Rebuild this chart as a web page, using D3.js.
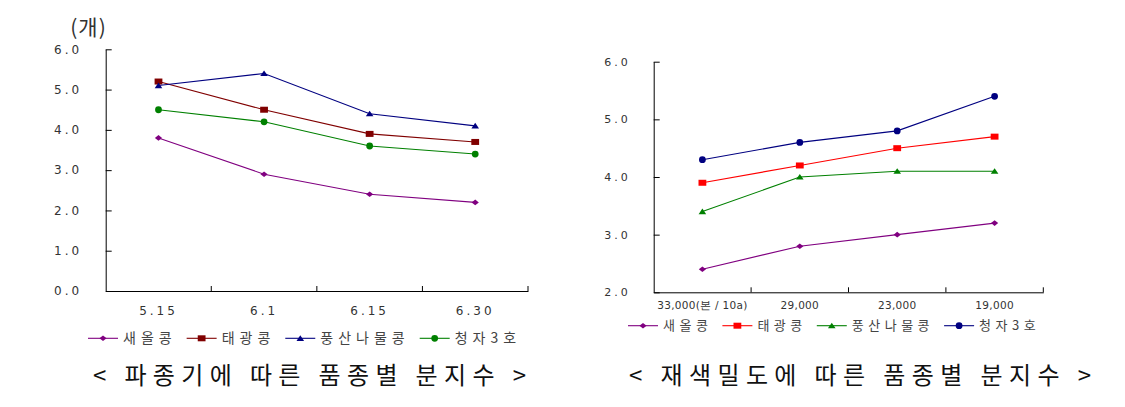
<!DOCTYPE html>
<html>
<head>
<meta charset="utf-8">
<script src="https://cdn.jsdelivr.net/npm/d3@7"></script>
<style>
  body { margin: 0; background: #fff; }
  svg { display: block; }
</style>
</head>
<body>
<div class="container"></div>
<script>
(function(){

    // data
    var varieties = ["새올콩", "태광콩", "풍산나물콩", "청자3호"];

    var sowingDates = ["5.15", "6.1", "6.15", "6.30"];
    var sowingSaeol   = [3.8, 2.9, 2.4, 2.2];
    var sowingTaegwang = [5.2, 4.5, 3.9, 3.7];
    var sowingPungsan = [5.1, 5.4, 4.4, 4.1];
    var sowingCheongja = [4.5, 4.2, 3.6, 3.4];
    var sowingTicks = [0, 1, 2, 3, 4, 5, 6];

    var densities = ["33,000(본 / 10a)", "29,000", "23,000", "19,000"];
    var densitySaeol   = [2.4, 2.8, 3.0, 3.2];
    var densityTaegwang = [3.9, 4.2, 4.5, 4.7];
    var densityPungsan = [3.4, 4.0, 4.1, 4.1];
    var densityCheongja = [4.3, 4.6, 4.8, 5.4];
    var densityTicks = [2, 3, 4, 5, 6];

    var unitLabel = "(개)";
    var titleSowing = "< 파종기에 따른 품종별 분지수 >";
    var titleDensity = "< 재색밀도에 따른 품종별 분지수 >";

    // marker shapes (slightly wide, like the original)
    var diamond = { draw: function(c) { c.moveTo(-3.6, 0); c.lineTo(0, -2.8); c.lineTo(3.6, 0); c.lineTo(0, 2.8); c.closePath(); } };
    var square = { draw: function(c) { c.rect(-3.9, -3, 7.8, 6); } };
    var triangle = { draw: function(c) { c.moveTo(-3.8, 2.6); c.lineTo(0, -3); c.lineTo(3.8, 2.6); c.closePath(); } };
    var circle = { draw: function(c) { c.ellipse ? c.ellipse(0, 0, 3.9, 3, 0, 0, 2 * Math.PI) : c.arc(0, 0, 3.4, 0, 2 * Math.PI); } };

    var svg = d3.select(".container").append("svg")
        .attr("width", 1125)
        .attr("height", 407);

    var tickFont = "'DejaVu Sans', sans-serif";
    var krFont = "'Noto Sans CJK KR', sans-serif";

    function panel(o) {
      var g = svg.append("g");

      var x = d3.scaleBand().domain(o.cats).range([o.x0, o.x1]).padding(0);
      var y = d3.scaleLinear().domain(o.domain).range([o.y0, o.y1]);

      // y axis, ticks pointing inward
      var yAxis = g.append("g")
        .attr("transform", "translate(" + o.x0 + ",0)")
        .call(d3.axisLeft(y).tickValues(o.ticks).tickFormat(d3.format(".1f"))
          .tickSizeInner(-6).tickSizeOuter(0).tickPadding(o.yPad));
      yAxis.select(".domain").attr("stroke", "#000");
      yAxis.selectAll(".tick line").attr("stroke", "#000");
      yAxis.selectAll("text")
        .attr("font-family", tickFont)
        .attr("font-size", o.yFont)
        .attr("letter-spacing", o.yLs)
        .attr("fill", "#333");

      // x axis: labels at band centres, ticks on band edges
      var xAxis = g.append("g")
        .attr("transform", "translate(0," + o.y0 + ")")
        .call(d3.axisBottom(x).tickSize(0).tickPadding(o.xPad));
      xAxis.select(".domain").attr("stroke", "#000");
      xAxis.selectAll("text")
        .attr("font-family", tickFont)
        .attr("font-size", o.xFont)
        .attr("letter-spacing", o.xLs)
        .attr("fill", "#333");

      g.selectAll(".edge")
        .data(o.cats)
        .enter().append("line")
        .attr("x1", function(d) { return x(d) + x.bandwidth(); })
        .attr("x2", function(d) { return x(d) + x.bandwidth(); })
        .attr("y1", o.y0)
        .attr("y2", o.y0 - 5)
        .attr("stroke", "#000");

      var line = d3.line()
        .x(function(d, i) { return x(o.cats[i]) + x.bandwidth() / 2; })
        .y(function(d) { return y(d); });

      o.series.forEach(function(s) {
        g.append("path")
          .datum(s.values)
          .attr("fill", "none")
          .attr("stroke", s.color)
          .attr("stroke-width", 1.1)
          .attr("d", line);

        g.selectAll(null)
          .data(s.values)
          .enter().append("path")
          .attr("d", d3.symbol().type(s.symbol))
          .attr("fill", s.color)
          .attr("transform", function(d, i) {
            return "translate(" + (x(o.cats[i]) + x.bandwidth() / 2) + "," + y(d) + ")";
          });
      });

      // legend, laid out in a row
      var lg = g.append("g").attr("transform", "translate(0," + o.legendY + ")");
      var cx = o.legendX;
      o.series.forEach(function(s, i) {
        lg.append("line")
          .attr("x1", cx).attr("x2", cx + 30)
          .attr("y1", 0).attr("y2", 0)
          .attr("stroke", s.color).attr("stroke-width", 1.1);
        lg.append("path")
          .attr("d", d3.symbol().type(s.symbol))
          .attr("fill", s.color)
          .attr("transform", "translate(" + (cx + 15) + ",0)");
        var t = lg.append("text")
          .attr("x", cx + 35)
          .attr("y", 0)
          .attr("dy", "0.36em")
          .attr("font-family", krFont)
          .attr("font-size", o.legendFont)
          .attr("letter-spacing", o.legendLs)
          .attr("fill", "#444")
          .text(varieties[i]);
        cx = cx + 35 + t.node().getComputedTextLength() + 10;
      });

      g.append("text")
        .attr("x", o.titleX0)
        .attr("y", 384)
        .attr("font-family", krFont)
        .attr("font-size", 24)
        .attr("textLength", o.titleX1 - o.titleX0)
        .attr("lengthAdjust", "spacing")
        .attr("fill", "#111")
        .text(o.title);
    }

    panel({
      cats: sowingDates, domain: [0, 6], ticks: sowingTicks,
      x0: 105.7, x1: 528, y0: 291, y1: 49.3,
      yPad: 23.5, yFont: 12, yLs: 3,
      xPad: 15, xFont: 12, xLs: 3,
      legendX: 88, legendY: 338.3, legendFont: 14, legendLs: 5,
      title: titleSowing, titleX0: 93, titleX1: 526,
      series: [
        { values: sowingSaeol, color: "#800080", symbol: diamond },
        { values: sowingTaegwang, color: "#800000", symbol: square },
        { values: sowingPungsan, color: "#000080", symbol: triangle },
        { values: sowingCheongja, color: "#008000", symbol: circle }
      ]
    });

    svg.append("text")
      .attr("x", 88.5)
      .attr("y", 35)
      .attr("text-anchor", "middle")
      .attr("font-family", krFont)
      .attr("font-size", 21)
      .attr("letter-spacing", 1)
      .attr("fill", "#333")
      .text(unitLabel);

    panel({
      cats: densities, domain: [2, 6], ticks: densityTicks,
      x0: 653.7, x1: 1043.3, y0: 292.3, y1: 61.7,
      yPad: 23, yFont: 11, yLs: 3,
      xPad: 9, xFont: 10.5, xLs: 0.3,
      legendX: 628, legendY: 325.7, legendFont: 13, legendLs: 4.5,
      title: titleDensity, titleX0: 629, titleX1: 1091,
      series: [
        { values: densitySaeol, color: "#800080", symbol: diamond },
        { values: densityTaegwang, color: "#ff0000", symbol: square },
        { values: densityPungsan, color: "#008000", symbol: triangle },
        { values: densityCheongja, color: "#000080", symbol: circle }
      ]
    });

})();
</script>
</body>
</html>
